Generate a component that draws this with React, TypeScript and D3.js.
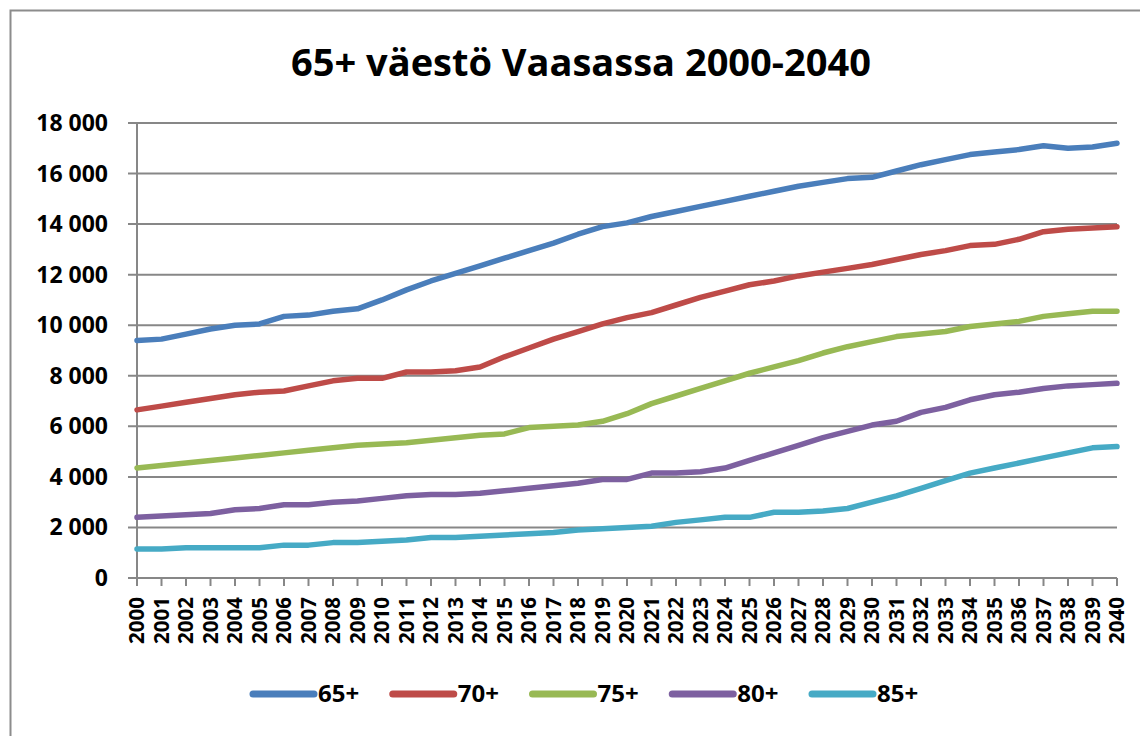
import React, { useEffect, useRef } from 'react';
import * as d3 from 'd3';

const years = d3.range(2000, 2041);
const seriesNames = ['65+', '70+', '75+', '80+', '85+'];
const colors = ['#4A7EBB', '#BE4B48', '#98B954', '#7D60A0', '#46AAC5'];

const s65 = [9400, 9450, 9650, 9850, 10000, 10050, 10350, 10400, 10550, 10650, 11000, 11400, 11750, 12050, 12350, 12650, 12950, 13250, 13600, 13900, 14050, 14300, 14500, 14700, 14900, 15100, 15300, 15500, 15650, 15800, 15850, 16100, 16350, 16550, 16750, 16850, 16950, 17100, 17000, 17050, 17200];
const s70 = [6650, 6800, 6950, 7100, 7250, 7350, 7400, 7600, 7800, 7900, 7900, 8150, 8150, 8200, 8350, 8750, 9100, 9450, 9750, 10050, 10300, 10500, 10800, 11100, 11350, 11600, 11750, 11950, 12100, 12250, 12400, 12600, 12800, 12950, 13150, 13200, 13400, 13700, 13800, 13850, 13900];
const s75 = [4350, 4450, 4550, 4650, 4750, 4850, 4950, 5050, 5150, 5250, 5300, 5350, 5450, 5550, 5650, 5700, 5950, 6000, 6050, 6200, 6500, 6900, 7200, 7500, 7800, 8100, 8350, 8600, 8900, 9150, 9350, 9550, 9650, 9750, 9950, 10050, 10150, 10350, 10450, 10550, 10550];
const s80 = [2400, 2450, 2500, 2550, 2700, 2750, 2900, 2900, 3000, 3050, 3150, 3250, 3300, 3300, 3350, 3450, 3550, 3650, 3750, 3900, 3900, 4150, 4150, 4200, 4350, 4650, 4950, 5250, 5550, 5800, 6050, 6200, 6550, 6750, 7050, 7250, 7350, 7500, 7600, 7650, 7700];
const s85 = [1150, 1150, 1200, 1200, 1200, 1200, 1300, 1300, 1400, 1400, 1450, 1500, 1600, 1600, 1650, 1700, 1750, 1800, 1900, 1950, 2000, 2050, 2200, 2300, 2400, 2400, 2600, 2600, 2650, 2750, 3000, 3250, 3550, 3850, 4150, 4350, 4550, 4750, 4950, 5150, 5200];

const yTicks = [0, 2000, 4000, 6000, 8000, 10000, 12000, 14000, 16000, 18000];
const title = '65+ väestö Vaasassa 2000-2040';

const FONT = '"Open Sans", sans-serif';

export default function App() {
  const svgRef = useRef<SVGSVGElement>(null);

  useEffect(() => {
    document.body.style.margin = '0';
    if (!svgRef.current) return;
    const svg = d3.select(svgRef.current);
    svg.selectAll('*').remove();

    const width = 1140;
    const height = 736;
    const left = 137;
    const right = 1117;
    const top = 123;
    const bottom = 578;
    const series = [s65, s70, s75, s80, s85];

    svg.attr('width', width).attr('height', height);

    svg.append('rect').attr('width', width).attr('height', height).attr('fill', '#fff');

    // chart frame (cropped at right/bottom)
    svg.append('path')
      .attr('d', `M10.5,${height + 5} V10.5 H${width + 5}`)
      .attr('fill', 'none')
      .attr('stroke', '#8c8c8c')
      .attr('stroke-width', 2);

    svg.append('text')
      .attr('x', 581)
      .attr('y', 76)
      .attr('text-anchor', 'middle')
      .attr('font-family', FONT)
      .attr('font-weight', 700)
      .attr('font-size', 38)
      .attr('fill', '#000')
      .text(title);

    const x = d3.scalePoint<number>().domain(years).range([left, right]);
    const y = d3.scaleLinear().domain([0, 18000]).range([bottom, top]);

    // gridlines
    svg.append('g')
      .selectAll('line')
      .data(yTicks)
      .join('line')
      .attr('x1', left - 9)
      .attr('x2', right)
      .attr('y1', (d) => y(d))
      .attr('y2', (d) => y(d))
      .attr('stroke', '#878787')
      .attr('stroke-width', 2);

    // y axis line
    svg.append('line')
      .attr('x1', left).attr('x2', left)
      .attr('y1', top).attr('y2', bottom + 8)
      .attr('stroke', '#878787')
      .attr('stroke-width', 2);

    // x ticks
    svg.append('g')
      .selectAll('line')
      .data(years)
      .join('line')
      .attr('x1', (d) => x(d)!)
      .attr('x2', (d) => x(d)!)
      .attr('y1', bottom)
      .attr('y2', bottom + 8)
      .attr('stroke', '#878787')
      .attr('stroke-width', 2);

    const fmt = (v: number) => d3.format(',')(v).replace(',', ' ');

    svg.append('g')
      .selectAll('text')
      .data(yTicks)
      .join('text')
      .attr('x', 108)
      .attr('y', (d) => y(d))
      .attr('dy', '0.35em')
      .attr('text-anchor', 'end')
      .attr('font-family', FONT)
      .attr('font-weight', 700)
      .attr('font-size', 23)
      .attr('fill', '#000')
      .text(fmt);

    svg.append('g')
      .selectAll('text')
      .data(years)
      .join('text')
      .attr('transform', (d) => `translate(${x(d)! + 7},${bottom + 19}) rotate(-90)`)
      .attr('text-anchor', 'end')
      .attr('font-family', FONT)
      .attr('font-weight', 700)
      .attr('font-size', 20.5)
      .attr('fill', '#000')
      .text((d) => String(d));

    const line = d3.line<number>()
      .x((_, i) => x(years[i])!)
      .y((d) => y(d));

    series.forEach((s, i) => {
      svg.append('path')
        .datum(s)
        .attr('d', line)
        .attr('fill', 'none')
        .attr('stroke', colors[i])
        .attr('stroke-width', 5.5)
        .attr('stroke-linejoin', 'round')
        .attr('stroke-linecap', 'round');
    });

    // legend
    const legendY = 694;
    const legendX = d3.scalePoint<string>().domain(seriesNames).range([250, 809]);
    const lg = svg.append('g');
    seriesNames.forEach((name, i) => {
      const lx = legendX(name)!;
      lg.append('line')
        .attr('x1', lx + 3).attr('x2', lx + 64)
        .attr('y1', legendY).attr('y2', legendY)
        .attr('stroke', colors[i])
        .attr('stroke-width', 7)
        .attr('stroke-linecap', 'round');
      lg.append('text')
        .attr('x', lx + 68)
        .attr('y', legendY)
        .attr('dy', '0.35em')
        .attr('font-family', FONT)
        .attr('font-weight', 700)
        .attr('font-size', 24)
        .attr('fill', '#000')
        .text(name);
    });
  }, []);

  return <svg ref={svgRef}></svg>;
}
